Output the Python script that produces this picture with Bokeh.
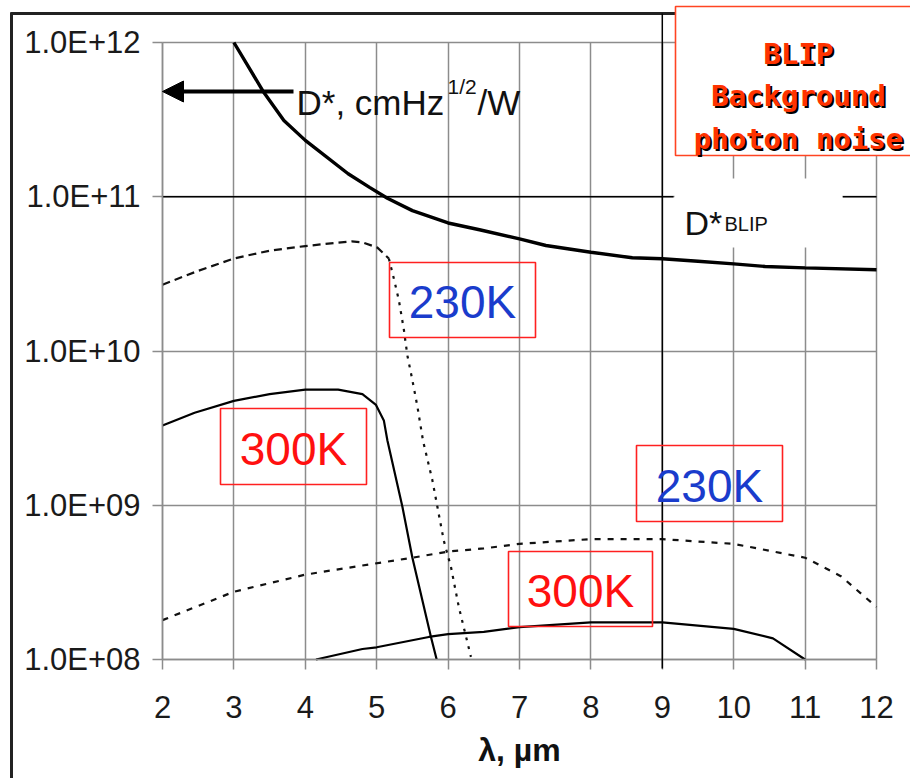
from bokeh.plotting import figure
from bokeh.models import (Range1d, FixedTicker, CustomJSTickFormatter, Label,
                          BoxAnnotation, Arrow, NormalHead)
from bokeh.embed import file_html
from bokeh.resources import INLINE

# ---------------- data ----------------
x_ticks = [2, 3, 4, 5, 6, 7, 8, 9, 10, 11, 12]
y_ticks = [1e8, 1e9, 1e10, 1e11, 1e12]

# BLIP limit D* (thick solid)
blip_x = [3.0, 3.42, 3.7, 4.0, 4.6, 4.9, 5.15, 5.5, 6.0, 6.44, 7.0, 7.37, 8.0,
          8.58, 9.0, 9.5, 10.0, 10.44, 11.0, 12.0]
blip_d = [1.0e12, 4.74e11, 3.12e11, 2.32e11, 1.41e11, 1.15e11, 9.77e10, 8.13e10,
          6.76e10, 6.11e10, 5.33e10, 4.83e10, 4.37e10, 4.02e10, 3.96e10, 3.82e10,
          3.67e10, 3.53e10, 3.46e10, 3.36e10]
blip_level = 1e11

# 230K, short-wave detector (dashed)
sw230_x = [2.0, 2.5, 3.0, 3.5, 4.0, 4.4, 4.65, 4.8, 5.01, 5.17, 5.24, 5.31, 5.38,
           5.43, 5.5, 5.57, 5.65, 5.78, 5.85, 5.94, 6.04, 6.15, 6.32]
sw230_d = [2.69e10, 3.31e10, 3.98e10, 4.47e10, 4.79e10, 5.01e10, 5.13e10, 5.07e10,
           4.68e10, 3.98e10, 2.95e10, 2.14e10, 1.38e10, 9.33e9, 6.46e9, 4.37e9,
           2.60e9, 1.45e9, 9.77e8, 5.89e8, 3.98e8, 2.19e8, 1.04e8]

# 300K, short-wave detector (solid)
sw300_x = [2.0, 2.45, 3.0, 3.5, 4.0, 4.46, 4.8, 4.99, 5.1, 5.15, 5.36, 5.5, 5.76, 5.84]
sw300_d = [3.29e9, 3.98e9, 4.75e9, 5.25e9, 5.62e9, 5.62e9, 5.25e9, 4.47e9, 3.55e9,
           2.63e9, 9.77e8, 4.57e8, 1.40e8, 1.0e8]

# 230K, long-wave detector (dashed)
lw230_x = [2, 3, 4, 4.8, 5.5, 6.0, 6.5, 7, 8, 9, 10, 11, 11.5, 12]
lw230_d = [1.80e8, 2.75e8, 3.55e8, 4.07e8, 4.57e8, 5.01e8, 5.25e8, 5.62e8, 6.03e8,
           6.03e8, 5.62e8, 4.57e8, 3.47e8, 2.19e8]

# 300K, long-wave detector (solid)
lw300_x = [4.15, 4.8, 5.0, 5.73, 6.0, 6.5, 7, 8, 9, 10, 10.55, 11]
lw300_d = [1.0e8, 1.17e8, 1.20e8, 1.40e8, 1.46e8, 1.51e8, 1.62e8, 1.74e8, 1.74e8,
           1.58e8, 1.37e8, 1.0e8]

# ---------------- layout helpers ----------------
W, H = 910, 778
FL, FR, FT, FB = 162, 876, 42, 659   # pixel box of the 2..12 / 1e8..1e12 area


def dx(px):
    return 2 + (px - FL) * 10.0 / (FR - FL)


def dy(py):
    return 10 ** (8 + (FB - py) * 4.0 / (FB - FT))


GRID = "#8c8c8c"
SANS = "Liberation Sans"

# the frame covers the whole canvas so that the slide decorations are not clipped;
# the axes sit at fixed locations at the edges of the data area
p = figure(width=W, height=H, x_range=Range1d(dx(0), dx(W)),
           y_range=Range1d(dy(H), dy(0)), y_axis_type="log",
           output_backend="svg", toolbar_location=None, min_border=0)
p.background_fill_color = "white"
p.border_fill_color = "white"
p.outline_line_color = None

p.xaxis.fixed_location = 1e8
p.yaxis.fixed_location = 2
p.xaxis.bounds = (2, 12)
p.yaxis.bounds = (1e8, 1e12)
p.xaxis.ticker = FixedTicker(ticks=x_ticks)
p.yaxis.ticker = FixedTicker(ticks=y_ticks)
p.yaxis.formatter = CustomJSTickFormatter(code="""
const e = Math.round(Math.log10(tick));
return '1.0E+' + (e < 10 ? '0' + e : '' + e);
""")
for ax in (p.xaxis[0], p.yaxis[0]):
    ax.axis_line_color = GRID
    ax.axis_line_width = 1.5
    ax.major_tick_line_color = GRID
    ax.major_tick_line_width = 1.5
    ax.major_tick_out = 10
    ax.major_tick_in = 0
    ax.minor_tick_line_color = None
    ax.major_label_text_font = SANS
    ax.major_label_text_font_size = "31px"
    ax.major_label_text_color = "#1a1a1a"
p.yaxis.major_label_standoff = 12
p.xaxis.major_label_standoff = 26
p.xaxis.axis_label = "λ, µm"
p.xaxis.axis_label_text_font = SANS
p.xaxis.axis_label_text_font_size = "32px"
p.xaxis.axis_label_text_font_style = "bold"
p.xaxis.axis_label_text_color = "#111111"
p.xaxis.axis_label_standoff = 11

p.xgrid.ticker = FixedTicker(ticks=x_ticks)
p.ygrid.ticker = FixedTicker(ticks=y_ticks)
p.xgrid.cross_bounds = (1e8, 1e12)
p.ygrid.cross_bounds = (2, 12)
p.xgrid.grid_line_color = GRID
p.xgrid.grid_line_width = 1.5
p.ygrid.grid_line_color = GRID
p.ygrid.grid_line_width = 1.5

# outer frame of the slide (left and top edges)
p.add_layout(Arrow(end=None, x_start=dx(11), y_start=dy(800), x_end=dx(11), y_end=dy(12),
                   line_color="#222222", line_width=3))
p.add_layout(Arrow(end=None, x_start=dx(10), y_start=dy(13), x_end=dx(690), y_end=dy(13),
                   line_color="#222222", line_width=3))

# vertical black line at 9 µm
p.add_layout(Arrow(end=None, x_start=9, y_start=dy(13), x_end=9, y_end=dy(668),
                   line_color="black", line_width=1.5))

# white backing of the D*BLIP label
p.add_layout(BoxAnnotation(left=dx(674), right=dx(842), top=dy(178), bottom=dy(247),
                           fill_color="white", fill_alpha=1.0, line_alpha=0))

# BLIP level line (with a gap for its label)
p.segment(x0=[2, dx(842)], y0=[blip_level, blip_level], x1=[dx(673), 12],
          y1=[blip_level, blip_level], line_color="black", line_width=1.6)

# curves
p.line(lw300_x, lw300_d, line_color="black", line_width=2.2)
p.line(lw230_x, lw230_d, line_color="#111111", line_width=2.2, line_dash="6 7")
p.line(sw300_x, sw300_d, line_color="black", line_width=2.2)
p.line(sw230_x[:10], sw230_d[:10], line_color="#111111", line_width=2.2, line_dash="8 5")
p.line(sw230_x[9:], sw230_d[9:], line_color="#111111", line_width=2.2, line_dash="3 6")
p.line(blip_x, blip_d, line_color="black", line_width=3.4)

# temperature labels with red frames
tags = [
    ("300K", "#ff1010", (220, 408, 366, 484)),
    ("230K", "#1a3ccc", (389, 262, 535, 337)),
    ("230K", "#1a3ccc", (636, 445, 782, 521)),
    ("300K", "#ff1010", (508, 551, 652, 626)),
]
for txt, col, (l, t, r, b) in tags:
    p.add_layout(BoxAnnotation(left=dx(l), right=dx(r), top=dy(t), bottom=dy(b),
                               fill_alpha=0, line_color="#ff2020", line_alpha=1.0,
                               line_width=1.6))
    p.add_layout(Label(x=dx((l + r) / 2), y=dy((t + b) / 2 + 2), text=txt,
                       text_align="center", text_baseline="middle",
                       text_font=SANS, text_font_size="46px", text_color=col))

# D* axis-title arrow
p.add_layout(Arrow(end=NormalHead(size=21, fill_color="black", line_color="black"),
                   x_start=dx(293), y_start=dy(91), x_end=dx(162), y_end=dy(91),
                   line_color="black", line_width=4))
p.add_layout(Label(x=dx(296), y=dy(102), text="D*, cmHz", text_font=SANS,
                   text_font_size="35px", text_color="#111111", text_baseline="alphabetic"))
p.add_layout(Label(x=dx(447), y=dy(86), text="1/2", text_font=SANS,
                   text_font_size="21px", text_color="#111111", text_baseline="alphabetic"))
p.add_layout(Label(x=dx(477), y=dy(102), text="/W", text_font=SANS,
                   text_font_size="35px", text_color="#111111", text_baseline="alphabetic"))

# D*BLIP label
p.add_layout(Label(x=dx(684), y=dy(222), text="D*", text_font=SANS,
                   text_font_size="34px", text_color="#111111", text_baseline="alphabetic"))
p.add_layout(Label(x=dx(724), y=dy(223), text="BLIP", text_font=SANS,
                   text_font_size="20px", text_color="#111111", text_baseline="alphabetic"))

# BLIP box (top right)
p.add_layout(BoxAnnotation(left=dx(675), right=dx(930), top=dy(6), bottom=dy(155),
                           fill_color="white", fill_alpha=1.0,
                           line_color="#ff4422", line_alpha=1.0, line_width=1.6))
for txt, base in (("BLIP", 53), ("Background", 95), ("photon noise", 138)):
    p.add_layout(Label(x=dx(800), y=dy(base + 2), text=txt, text_align="center",
                       text_baseline="alphabetic", text_font="DejaVu Sans Mono",
                       text_font_style="bold", text_font_size="29px", text_color="black"))
    p.add_layout(Label(x=dx(798), y=dy(base), text=txt, text_align="center",
                       text_baseline="alphabetic", text_font="DejaVu Sans Mono",
                       text_font_style="bold", text_font_size="29px", text_color="#ff3300"))

open("out.html", "w").write(file_html(p, INLINE))
